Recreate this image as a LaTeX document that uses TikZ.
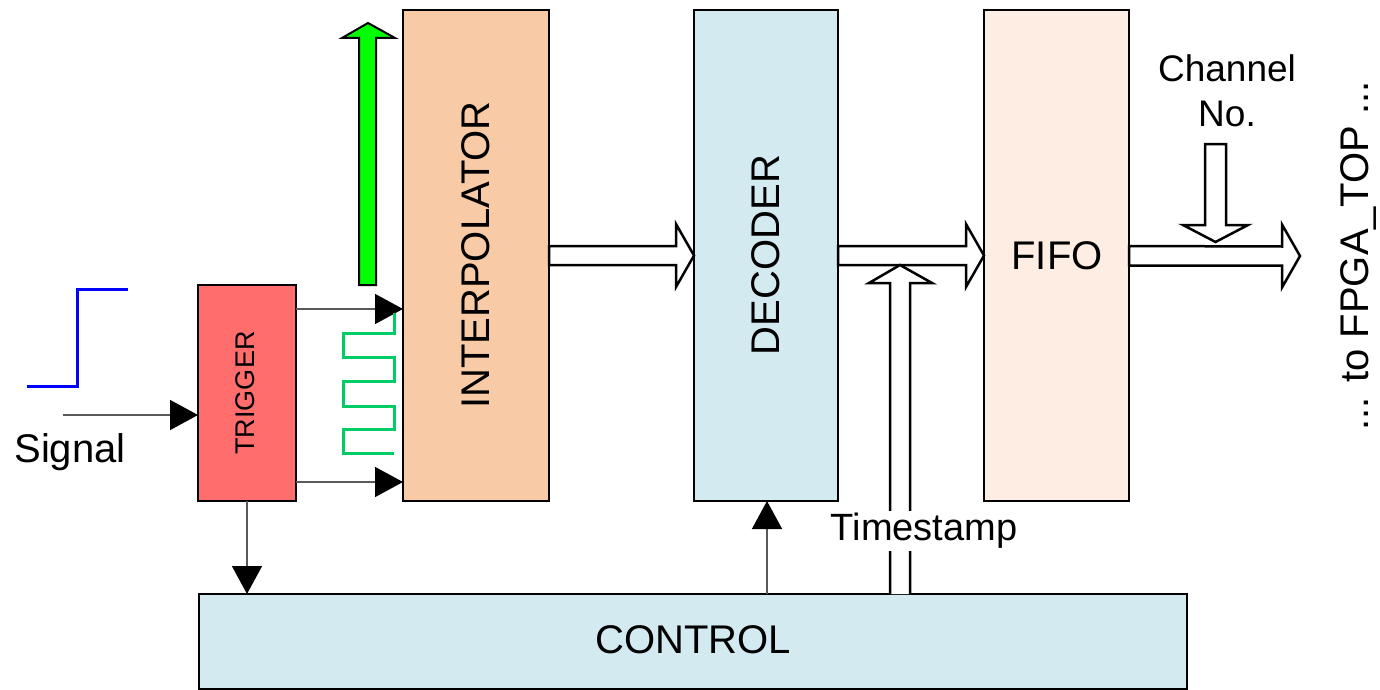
\documentclass[tikz,border=0pt]{standalone}
\usepackage{fontspec}
\setmainfont{Liberation Sans}
\usetikzlibrary{arrows.meta,calc}
\definecolor{trigred}{HTML}{FF6D6D}
\definecolor{interpc}{HTML}{F8CBA6}
\definecolor{lblue}{HTML}{D3EAF0}
\definecolor{fifoc}{HTML}{FDEDE2}
\definecolor{wavegreen}{HTML}{00CC66}
\definecolor{arrgreen}{HTML}{00FF00}
\begin{document}
\begin{tikzpicture}[x=1pt,y=-1pt,
  box/.style={draw=black,line width=2pt,inner sep=0pt,outer sep=0pt},
  lbl/.style={font=\fontsize{40}{46}\selectfont,inner sep=0pt},
  sig/.style={draw=black!65,line width=1.5pt,-{Triangle[length=28pt,width=30pt,color=black]}},
  hollow/.style={draw=black,line width=2.5pt,fill=white,line join=miter},
  wave/.style={draw=wavegreen,line width=3pt},
  stepsig/.style={draw=blue,line width=3pt}]
\useasboundingbox (0,0) rectangle (1380,690);
% boxes
\node[box,fill=trigred,minimum width=98pt,minimum height=216pt] (trig) at (247,393) {};
\node[box,fill=interpc,minimum width=146pt,minimum height=491pt] (interp) at (476,255.5) {};
\node[box,fill=lblue,minimum width=144pt,minimum height=491pt] (dec) at (766,255.5) {};
\node[box,fill=fifoc,minimum width=145pt,minimum height=491pt] (fifo) at (1056.5,255.5) {};
\node[box,fill=lblue,minimum width=988pt,minimum height=95pt] (ctrl) at (693,641.5) {};
% box texts
\node[lbl,rotate=90,font=\fontsize{27}{32}\selectfont] (trigt) at (245,393) {TRIGGER};
\node[lbl,rotate=90] (interpt) at (476,255) {INTERPOLATOR};
\node[lbl,rotate=90] (dect) at (766,255) {DECODER};
\node[lbl] (fifot) at (1057,256) {FIFO};
\node[lbl] (ctrlt) at (693,640) {CONTROL};
% input signal
\draw[stepsig] (27,386) -- (77,386) -- (77,289) -- (128,289);
\coordinate (sigin) at (63,415);
\draw[sig] (sigin) -- (sigin -| trig.west);
\node[lbl] (sigt) at (70,452) {Signal};
% trigger -> interpolator
\draw[sig] (trig.east |- 0,309) -- (interp.west |- 0,309);
\draw[sig] (trig.east |- 0,482) -- (interp.west |- 0,482);
\draw[wave] (394,313) -- (394,333) -- (343,333) -- (343,357) -- (394,357) -- (394,381)
  -- (343,381) -- (343,406) -- (394,406) -- (394,429) -- (343,429) -- (343,453) -- (394,453);
% green arrow
\draw[draw=black,line width=2pt,fill=arrgreen,line join=miter]
  (359,285) -- (359,38) -- (342,38) -- (368,23) -- (395,38) -- (376,38) -- (376,285) -- cycle;
% trigger -> control, control -> decoder
\draw[sig] (trig.south) -- (trig.south |- ctrl.north);
\draw[sig] (ctrl.north -| 767,0) -- (dec.south -| 767,0);
% hollow arrows
\draw[hollow] ([yshift=9.5pt]interp.east) -- ([xshift=-18pt,yshift=9.5pt]dec.west)
  -- ([xshift=-18pt,yshift=31.5pt]dec.west) -- (dec.west)
  -- ([xshift=-18pt,yshift=-31.5pt]dec.west) -- ([xshift=-18pt,yshift=-9.5pt]dec.west)
  -- ([yshift=-9.5pt]interp.east) -- cycle;
\draw[hollow] ([yshift=9.5pt]dec.east) -- ([xshift=-18pt,yshift=9.5pt]fifo.west)
  -- ([xshift=-18pt,yshift=31.5pt]fifo.west) -- (fifo.west)
  -- ([xshift=-18pt,yshift=-31.5pt]fifo.west) -- ([xshift=-18pt,yshift=-9.5pt]fifo.west)
  -- ([yshift=-9.5pt]dec.east) -- cycle;
\coordinate (outtip) at (1300,256);
\draw[hollow] ([yshift=9.5pt]fifo.east) -- ([xshift=-18pt,yshift=9.5pt]outtip)
  -- ([xshift=-18pt,yshift=31.5pt]outtip) -- (outtip)
  -- ([xshift=-18pt,yshift=-31.5pt]outtip) -- ([xshift=-18pt,yshift=-9.5pt]outtip)
  -- ([yshift=-9.5pt]fifo.east |- outtip) -- cycle;
% timestamp arrow
\coordinate (tstip) at (900,265);
\draw[hollow] (ctrl.north -| 890,0) -- (890,283) -- (869,283) -- (tstip) -- (932,283)
  -- (910,283) -- (ctrl.north -| 910,0);
\node[lbl,fill=white,inner sep=2pt,font=\fontsize{38}{44}\selectfont] (tst) at (924,531) {Timestamp};
% channel no arrow
\coordinate (chtip) at (1215.5,242);
\draw[hollow] (1205,144) -- (1205,225) -- (1183,225) -- (chtip) -- (1248,225) -- (1226,225)
  -- (1226,144) -- cycle;
\node[lbl,align=center,font=\fontsize{37}{45}\selectfont] (cht) at (1227,91) {Channel\\No.};
% output label
\node[lbl,rotate=90] (outt) at (1358,256) {... to FPGA\_TOP ...};
\end{tikzpicture}
\end{document}
